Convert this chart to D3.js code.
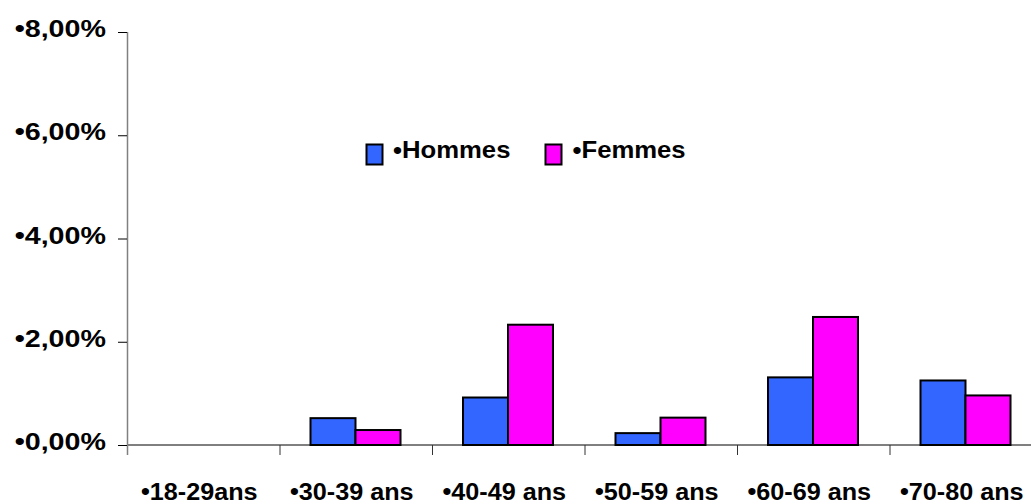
<!DOCTYPE html>
<html>
<head>
<meta charset="utf-8">
<script src="https://cdn.jsdelivr.net/npm/d3@7"></script>
<style>
  html, body { margin: 0; padding: 0; background: #fff; }
  svg { display: block; font-family: "Liberation Sans", Arial, sans-serif; font-weight: bold; }
</style>
</head>
<body>
<svg id="chart" width="1031" height="504"></svg>
<script>
// Age groups and rates (%) per sex
const categories = ["•18-29ans", "•30-39 ans", "•40-49 ans", "•50-59 ans", "•60-69 ans", "•70-80 ans"];
const seriesNames = ["•Hommes", "•Femmes"];
const hommes = [0, 0.52, 0.92, 0.23, 1.31, 1.25];
const femmes = [0, 0.29, 2.33, 0.53, 2.48, 0.96];
const yTicks = [0, 2, 4, 6, 8];
const yTickLabels = ["•0,00%", "•2,00%", "•4,00%", "•6,00%", "•8,00%"];
const colors = ["#3366FF", "#FF00FF"];

const svg = d3.select("#chart");

const x0 = d3.scaleBand().domain(categories).range([127, 1042]).paddingInner(0).paddingOuter(0);
const x1 = d3.scaleBand().domain(seriesNames).range([31, 121]).padding(0);
const y = d3.scaleLinear().domain([0, 8]).range([445, 32]);
const color = d3.scaleOrdinal().domain(seriesNames).range(colors);

const rows = categories.map((c, i) => ({ cat: c, values: [
  { key: seriesNames[0], v: hommes[i] },
  { key: seriesNames[1], v: femmes[i] }
]}));

// Bars
const groups = svg.append("g").selectAll("g").data(rows).join("g")
  .attr("transform", d => `translate(${x0(d.cat)},0)`);
groups.selectAll("rect").data(d => d.values.filter(e => e.v > 0)).join("rect")
  .attr("x", d => x1(d.key))
  .attr("width", x1.bandwidth())
  .attr("y", d => y(d.v))
  .attr("height", d => y(0) - y(d.v))
  .attr("fill", d => color(d.key))
  .attr("stroke", "#000")
  .attr("stroke-width", 2);

// X axis line and ticks
svg.append("line")
  .attr("x1", 127).attr("x2", 1031)
  .attr("y1", y(0)).attr("y2", y(0))
  .attr("stroke", "#000").attr("stroke-width", 1);
svg.append("g").selectAll("line").data(categories).join("line")
  .attr("x1", d => x0(d) + 0.5).attr("x2", d => x0(d) + 0.5)
  .attr("y1", y(0)).attr("y2", y(0) + 10)
  .attr("stroke", "#333").attr("stroke-width", 1);

// Y axis line and ticks
svg.append("line")
  .attr("x1", 127.5).attr("x2", 127.5)
  .attr("y1", y(8)).attr("y2", y(0) + 10)
  .attr("stroke", "#808080").attr("stroke-width", 1.5);
svg.append("g").selectAll("line").data(yTicks).join("line")
  .attr("x1", 118).attr("x2", 127)
  .attr("y1", d => y(d) + 0.5).attr("y2", d => y(d) + 0.5)
  .attr("stroke", "#000").attr("stroke-width", 1);

// Y tick labels
svg.append("g").selectAll("text").data(yTicks).join("text")
  .attr("transform", d => `translate(106,${y(d) + 5}) scale(1.22,1)`)
  .attr("text-anchor", "end")
  .attr("font-size", 23.5)
  .attr("fill", "#000")
  .text((d, i) => yTickLabels[i]);

// X category labels
svg.append("g").selectAll("text").data(categories).join("text")
  .attr("transform", d => `translate(${x0(d) + x0.bandwidth() / 2 - 4},500) scale(1.05,1)`)
  .attr("text-anchor", "middle")
  .attr("font-size", 24)
  .attr("fill", "#000")
  .text(d => d);

// Legend
const legendPos = [{ sx: 366.5, tx: 393 }, { sx: 545.5, tx: 572.5 }];
const legend = svg.append("g").selectAll("g").data(seriesNames).join("g");
legend.append("rect")
  .attr("x", (d, i) => legendPos[i].sx)
  .attr("y", 144.5)
  .attr("width", 16).attr("height", 20)
  .attr("fill", d => color(d))
  .attr("stroke", "#000").attr("stroke-width", 2);
legend.append("text")
  .attr("transform", (d, i) => `translate(${legendPos[i].tx},157.5) scale(1.07,1)`)
  .attr("font-size", 24)
  .attr("fill", "#000")
  .text(d => d);
</script>
</body>
</html>
